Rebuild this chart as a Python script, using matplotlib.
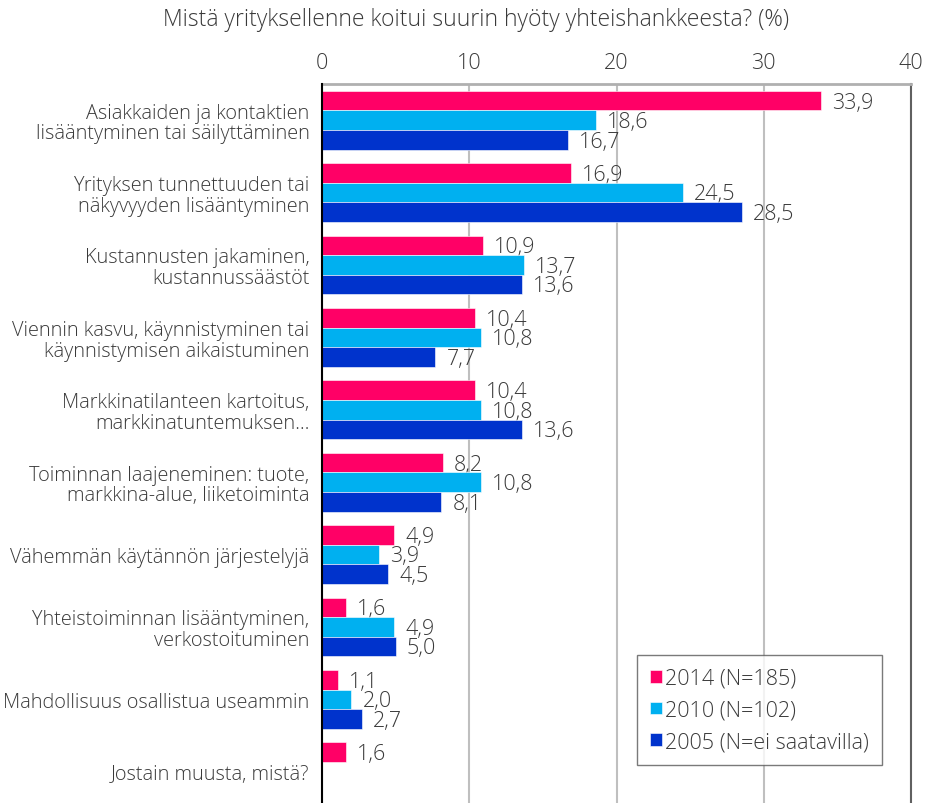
import numpy as np
import matplotlib
matplotlib.use("Agg")
from matplotlib import pyplot as plt

# data
categories = [
	"Asiakkaiden ja kontaktien\nlisääntyminen tai säilyttäminen",
	"Yrityksen tunnettuuden tai\nnäkyvyyden lisääntyminen",
	"Kustannusten jakaminen,\nkustannussäästöt",
	"Viennin kasvu, käynnistyminen tai\nkäynnistymisen aikaistuminen",
	"Markkinatilanteen kartoitus,\nmarkkinatuntemuksen…",
	"Toiminnan laajeneminen: tuote,\nmarkkina-alue, liiketoiminta",
	"Vähemmän käytännön järjestelyjä",
	"Yhteistoiminnan lisääntyminen,\nverkostoituminen",
	"Mahdollisuus osallistua useammin",
	"Jostain muusta, mistä?",
]
v2014 = [33.9, 16.9, 10.9, 10.4, 10.4, 8.2, 4.9, 1.6, 1.1, 1.6]
v2010 = [18.6, 24.5, 13.7, 10.8, 10.8, 10.8, 3.9, 4.9, 2.0, None]
v2005 = [16.7, 28.5, 13.6, 7.7, 13.6, 8.1, 4.5, 5.0, 2.7, None]
series_labels = ["2014 (N=185)", "2010 (N=102)", "2005 (N=ei saatavilla)"]
colors = ["#FF0066", "#00B0F0", "#0033CC"]
title = "Mistä yrityksellenne koitui suurin hyöty yhteishankkeesta? (%)"

plt.rcParams["font.family"] = ["Open Sans", "DejaVu Sans"]
plt.rcParams["font.weight"] = "light"
text_color = "#3a3a3a"
fs = 15.5

fig = plt.figure(figsize=(9.26, 8.04), dpi=100)
ax = fig.add_axes([322 / 926, -5 / 804, 589 / 926, 724 / 804])

y = np.arange(len(categories))
h = 0.27
for k, vals in enumerate([v2014, v2010, v2005]):
	pos = y + (k - 1) * h
	xs = [v if v is not None else 0 for v in vals]
	ax.barh(pos, xs, height=h, color=colors[k], edgecolor="white",
		linewidth=0.4, label=series_labels[k], zorder=3)
	for p, v in zip(pos, vals):
		if v is None:
			continue
		ax.annotate(f"{v:.1f}".replace(".", ","), (v, p), xytext=(8, -1),
			textcoords="offset points", ha="left", va="center",
			fontsize=fs, color=text_color)

ax.set_xlim(0, 40)
ax.set_ylim(len(categories) - 0.5, -0.5)
ax.set_xticks([0, 10, 20, 30, 40])
ax.xaxis.tick_top()
ax.tick_params(axis="x", length=0, pad=8, labelsize=fs, labelcolor=text_color)
ax.set_yticks(y)
ax.set_yticklabels(categories, linespacing=1.05)
ax.tick_params(axis="y", length=0, pad=9, labelsize=14.3, labelcolor=text_color)
for t in ax.get_yticklabels():
	t.set_horizontalalignment("right")

ax.grid(axis="x", color="#BFBFBF", linewidth=1.5, zorder=0)
ax.spines["top"].set_color("#B0B0B0")
ax.spines["top"].set_linewidth(2)
ax.spines["left"].set_color("black")
ax.spines["left"].set_linewidth(1.5)
ax.spines["left"].set_zorder(4)
ax.spines["right"].set_color("#606060")
ax.spines["right"].set_linewidth(1.5)
ax.spines["bottom"].set_visible(False)

leg = ax.legend(loc="lower left", bbox_to_anchor=(0.535, 0.059),
	fontsize=fs, frameon=True, fancybox=False, handlelength=0.55,
	handleheight=0.55, handletextpad=0.15, labelspacing=0.5,
	borderpad=0.6, borderaxespad=0)
leg.get_frame().set_edgecolor("#595959")
leg.get_frame().set_linewidth(1)
for t in leg.get_texts():
	t.set_color(text_color)

fig.text(476 / 926, 1 - 20 / 804, title, ha="center", va="center",
	fontsize=16.5, color=text_color)

fig.savefig("out.png", dpi=100)
